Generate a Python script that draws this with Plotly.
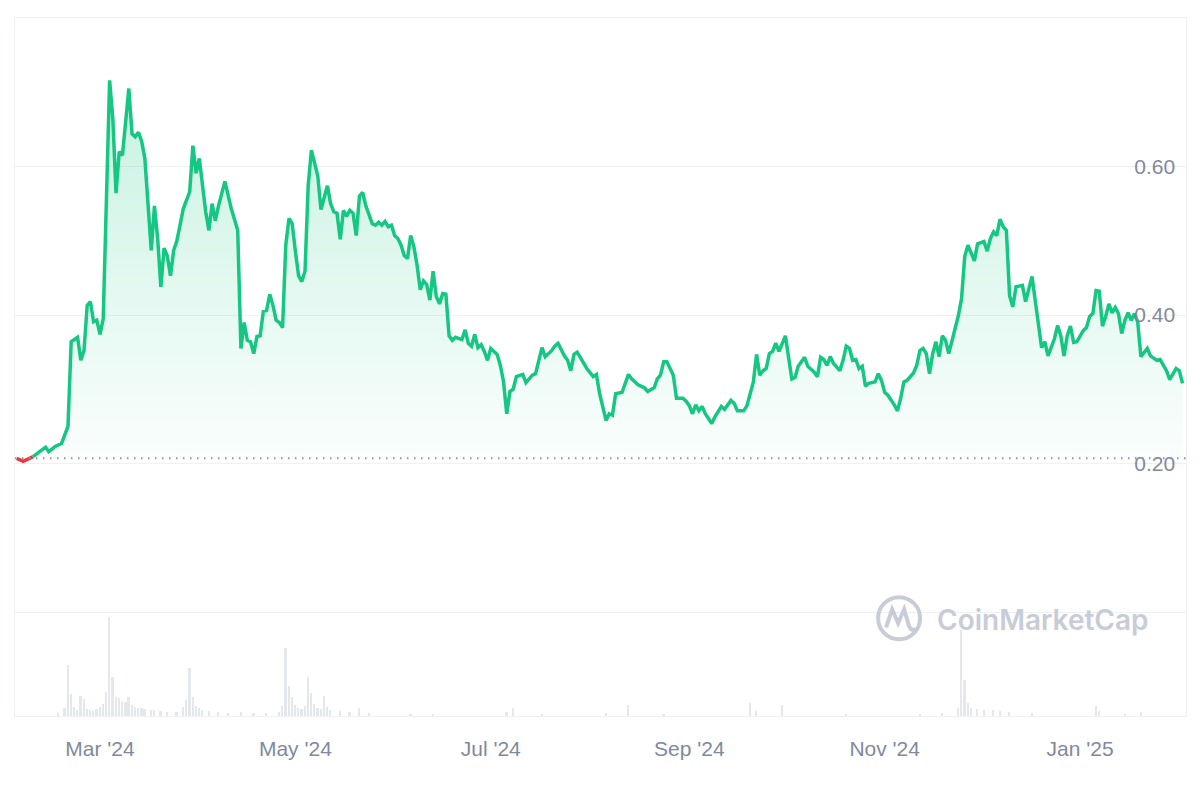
import plotly.graph_objects as go

# ---------------- data ----------------
dates = [
    "2024-02-04", "2024-02-06", "2024-02-09", "2024-02-11", "2024-02-13", "2024-02-14", "2024-02-16",
    "2024-02-18", "2024-02-19", "2024-02-20", "2024-02-21", "2024-02-23", "2024-02-24", "2024-02-25",
    "2024-02-26", "2024-02-27", "2024-02-28", "2024-02-29",
    "2024-03-01", "2024-03-02", "2024-03-04", "2024-03-05", "2024-03-06", "2024-03-07", "2024-03-08",
    "2024-03-10", "2024-03-11", "2024-03-12", "2024-03-13", "2024-03-14", "2024-03-15", "2024-03-17",
    "2024-03-18", "2024-03-19", "2024-03-20", "2024-03-21", "2024-03-22", "2024-03-23", "2024-03-24",
    "2024-03-25", "2024-03-27", "2024-03-29", "2024-03-30", "2024-03-31",
    "2024-04-01", "2024-04-03", "2024-04-04", "2024-04-05", "2024-04-06", "2024-04-07", "2024-04-09",
    "2024-04-11", "2024-04-13", "2024-04-14", "2024-04-15", "2024-04-16", "2024-04-17", "2024-04-18",
    "2024-04-19", "2024-04-20", "2024-04-21", "2024-04-22", "2024-04-23", "2024-04-24", "2024-04-25",
    "2024-04-26", "2024-04-27", "2024-04-28", "2024-04-29", "2024-04-30",
    "2024-05-01", "2024-05-02", "2024-05-03", "2024-05-04", "2024-05-05", "2024-05-06", "2024-05-08",
    "2024-05-09", "2024-05-11", "2024-05-12", "2024-05-13", "2024-05-14", "2024-05-15", "2024-05-16",
    "2024-05-17", "2024-05-18", "2024-05-19", "2024-05-20", "2024-05-21", "2024-05-22", "2024-05-23",
    "2024-05-25", "2024-05-26", "2024-05-27", "2024-05-28", "2024-05-29", "2024-05-30", "2024-05-31",
    "2024-06-01", "2024-06-02", "2024-06-03", "2024-06-04", "2024-06-05", "2024-06-06", "2024-06-07",
    "2024-06-08", "2024-06-09", "2024-06-10", "2024-06-11", "2024-06-12", "2024-06-13", "2024-06-14",
    "2024-06-15", "2024-06-16", "2024-06-17", "2024-06-18", "2024-06-19", "2024-06-20", "2024-06-22",
    "2024-06-23", "2024-06-24", "2024-06-25", "2024-06-26", "2024-06-27", "2024-06-28", "2024-06-29",
    "2024-06-30",
    "2024-07-01", "2024-07-03", "2024-07-04", "2024-07-05", "2024-07-06", "2024-07-07", "2024-07-08",
    "2024-07-09", "2024-07-11", "2024-07-12", "2024-07-14", "2024-07-15", "2024-07-16", "2024-07-17",
    "2024-07-18", "2024-07-20", "2024-07-21", "2024-07-22", "2024-07-24", "2024-07-25", "2024-07-26",
    "2024-07-27", "2024-07-28", "2024-07-30", "2024-07-31",
    "2024-08-02", "2024-08-03", "2024-08-04", "2024-08-06", "2024-08-07", "2024-08-08", "2024-08-09",
    "2024-08-11", "2024-08-13", "2024-08-14", "2024-08-16", "2024-08-18", "2024-08-19", "2024-08-21",
    "2024-08-22", "2024-08-23", "2024-08-24", "2024-08-25", "2024-08-27", "2024-08-28", "2024-08-30",
    "2024-08-31",
    "2024-09-01", "2024-09-02", "2024-09-03", "2024-09-04", "2024-09-05", "2024-09-06", "2024-09-08",
    "2024-09-09", "2024-09-11", "2024-09-12", "2024-09-14", "2024-09-15", "2024-09-16", "2024-09-18",
    "2024-09-19", "2024-09-21", "2024-09-22", "2024-09-23", "2024-09-24", "2024-09-25", "2024-09-26",
    "2024-09-27", "2024-09-28", "2024-09-29",
    "2024-10-01", "2024-10-02", "2024-10-03", "2024-10-04", "2024-10-05", "2024-10-07", "2024-10-08",
    "2024-10-10", "2024-10-11", "2024-10-12", "2024-10-13", "2024-10-14", "2024-10-15", "2024-10-16",
    "2024-10-18", "2024-10-19", "2024-10-20", "2024-10-21", "2024-10-22", "2024-10-23", "2024-10-24",
    "2024-10-25", "2024-10-26", "2024-10-27", "2024-10-29", "2024-10-30", "2024-10-31",
    "2024-11-01", "2024-11-02", "2024-11-04", "2024-11-05", "2024-11-06", "2024-11-07", "2024-11-08",
    "2024-11-10", "2024-11-11", "2024-11-12", "2024-11-13", "2024-11-14", "2024-11-15", "2024-11-16",
    "2024-11-17", "2024-11-18", "2024-11-19", "2024-11-20", "2024-11-21", "2024-11-22", "2024-11-23",
    "2024-11-24", "2024-11-25", "2024-11-26", "2024-11-27", "2024-11-29", "2024-11-30",
    "2024-12-02", "2024-12-03", "2024-12-04", "2024-12-05", "2024-12-06", "2024-12-07", "2024-12-08",
    "2024-12-09", "2024-12-10", "2024-12-11", "2024-12-12", "2024-12-14", "2024-12-15", "2024-12-17",
    "2024-12-18", "2024-12-19", "2024-12-20", "2024-12-21", "2024-12-22", "2024-12-24", "2024-12-25",
    "2024-12-26", "2024-12-27", "2024-12-28", "2024-12-29", "2024-12-30", "2024-12-31",
    "2025-01-02", "2025-01-03", "2025-01-04", "2025-01-05", "2025-01-06", "2025-01-07", "2025-01-08",
    "2025-01-09", "2025-01-10", "2025-01-11", "2025-01-12", "2025-01-13", "2025-01-14", "2025-01-15",
    "2025-01-16", "2025-01-17", "2025-01-18", "2025-01-19", "2025-01-20", "2025-01-22", "2025-01-23",
    "2025-01-25", "2025-01-26", "2025-01-27", "2025-01-28", "2025-01-29", "2025-01-30", "2025-01-31",
    "2025-02-01", "2025-02-02",
]

prices = [
    0.207, 0.203, 0.209, 0.216, 0.222, 0.216, 0.223,
    0.227, 0.240, 0.250, 0.364, 0.370, 0.339, 0.352,
    0.413, 0.418, 0.391, 0.393,
    0.374, 0.395, 0.716, 0.665, 0.564, 0.620, 0.615,
    0.705, 0.644, 0.640, 0.646, 0.634, 0.611, 0.487,
    0.547, 0.503, 0.438, 0.490, 0.480, 0.453, 0.487,
    0.500, 0.543, 0.566, 0.628, 0.591,
    0.611, 0.539, 0.514, 0.550, 0.527, 0.547, 0.580,
    0.543, 0.514, 0.355, 0.390, 0.366, 0.364, 0.348,
    0.371, 0.372, 0.405, 0.406, 0.428, 0.413, 0.393,
    0.390, 0.383, 0.494, 0.530, 0.523,
    0.486, 0.453, 0.445, 0.459, 0.574, 0.622, 0.587,
    0.542, 0.574, 0.550, 0.539, 0.537, 0.502, 0.541,
    0.533, 0.541, 0.537, 0.507, 0.560, 0.565, 0.547,
    0.523, 0.521, 0.525, 0.521, 0.526, 0.519, 0.521,
    0.507, 0.503, 0.494, 0.480, 0.476, 0.507, 0.492,
    0.467, 0.434, 0.446, 0.441, 0.420, 0.459, 0.425,
    0.415, 0.429, 0.428, 0.372, 0.366, 0.370, 0.367,
    0.380, 0.362, 0.358, 0.374, 0.356, 0.360, 0.351,
    0.339,
    0.355, 0.347, 0.332, 0.310, 0.267, 0.297, 0.300,
    0.317, 0.320, 0.309, 0.319, 0.321, 0.337, 0.356,
    0.344, 0.352, 0.358, 0.362, 0.345, 0.339, 0.325,
    0.347, 0.350, 0.335, 0.328,
    0.317, 0.320, 0.294, 0.258, 0.267, 0.265, 0.294,
    0.296, 0.320, 0.314, 0.306, 0.302, 0.297, 0.302,
    0.314, 0.319, 0.337, 0.337, 0.319, 0.288, 0.288,
    0.284,
    0.278, 0.267, 0.279, 0.271, 0.277, 0.267, 0.254,
    0.263, 0.277, 0.273, 0.285, 0.281, 0.271, 0.271,
    0.278, 0.310, 0.347, 0.319, 0.325, 0.328, 0.348,
    0.351, 0.362, 0.351,
    0.372, 0.344, 0.314, 0.316, 0.331, 0.343, 0.331,
    0.323, 0.317, 0.343, 0.340, 0.332, 0.344, 0.335,
    0.325, 0.339, 0.358, 0.355, 0.339, 0.340, 0.328,
    0.331, 0.304, 0.308, 0.310, 0.321, 0.312,
    0.296, 0.292, 0.279, 0.271, 0.288, 0.310, 0.312,
    0.322, 0.332, 0.352, 0.355, 0.348, 0.321, 0.348,
    0.364, 0.344, 0.372, 0.366, 0.348, 0.364, 0.380,
    0.399, 0.422, 0.479, 0.494, 0.473, 0.496,
    0.499, 0.486, 0.503, 0.512, 0.507, 0.529, 0.519,
    0.514, 0.426, 0.411, 0.438, 0.440, 0.418, 0.452,
    0.420, 0.385, 0.356, 0.364, 0.345, 0.368, 0.386,
    0.372, 0.345, 0.372, 0.385, 0.363, 0.364,
    0.379, 0.383, 0.398, 0.402, 0.433, 0.432, 0.385,
    0.398, 0.415, 0.403, 0.410, 0.402, 0.375, 0.393,
    0.403, 0.393, 0.402, 0.391, 0.344, 0.355, 0.345,
    0.339, 0.340, 0.332, 0.325, 0.313, 0.321, 0.328,
    0.325, 0.308,
]

vol_dates = [
    "2024-02-17", "2024-02-19", "2024-02-20", "2024-02-21", "2024-02-22", "2024-02-23", "2024-02-24",
    "2024-02-25", "2024-02-26", "2024-02-27", "2024-02-28", "2024-02-29", "2024-03-01", "2024-03-02",
    "2024-03-03", "2024-03-04", "2024-03-05", "2024-03-06", "2024-03-07", "2024-03-08", "2024-03-09",
    "2024-03-10", "2024-03-11", "2024-03-12", "2024-03-13", "2024-03-14", "2024-03-15", "2024-03-17",
    "2024-03-18", "2024-03-20", "2024-03-22", "2024-03-25", "2024-03-27", "2024-03-28", "2024-03-29",
    "2024-03-30", "2024-03-31", "2024-04-01", "2024-04-02", "2024-04-04", "2024-04-07", "2024-04-10",
    "2024-04-14", "2024-04-18", "2024-04-22", "2024-04-26", "2024-04-27", "2024-04-28", "2024-04-29",
    "2024-04-30", "2024-05-01", "2024-05-02", "2024-05-03", "2024-05-04", "2024-05-05", "2024-05-06",
    "2024-05-07", "2024-05-08", "2024-05-09", "2024-05-10", "2024-05-11", "2024-05-12", "2024-05-15",
    "2024-05-18", "2024-05-21", "2024-05-24", "2024-06-06", "2024-06-13", "2024-07-06", "2024-07-08",
    "2024-07-17", "2024-08-06", "2024-08-13", "2024-08-24", "2024-09-20", "2024-09-22", "2024-09-30",
    "2024-10-20", "2024-11-12", "2024-11-19", "2024-11-24", "2024-11-25", "2024-11-26", "2024-11-27",
    "2024-11-28", "2024-11-30", "2024-12-02", "2024-12-05", "2024-12-07", "2024-12-10", "2024-12-17",
    "2025-01-06", "2025-01-07", "2025-01-15", "2025-01-20",
]
volumes = [
    0.15, 0.40, 2.58, 1.10, 0.45, 0.30, 1.01,
    0.86, 0.35, 0.30, 0.25, 0.35, 0.45, 0.60,
    1.20, 5.00, 1.97, 0.96, 0.92, 0.75, 0.70,
    0.95, 0.55, 0.45, 0.40, 0.42, 0.35, 0.30,
    0.28, 0.25, 0.20, 0.18, 0.45, 0.81, 2.42,
    0.95, 0.50, 0.40, 0.30, 0.25, 0.20, 0.15,
    0.20, 0.15, 0.15, 0.20, 0.50, 3.43, 1.52,
    0.95, 0.55, 0.40, 0.35, 0.50, 1.97, 1.16,
    0.60, 0.40, 0.35, 1.00, 0.45, 0.30, 0.25,
    0.20, 0.40, 0.15, 0.12, 0.12, 0.20, 0.40,
    0.12, 0.15, 0.56, 0.12, 0.66, 0.25, 0.56,
    0.12, 0.12, 0.15, 0.40, 4.34, 1.82, 0.66,
    0.40, 0.35, 0.30, 0.30, 0.25, 0.20, 0.15,
    0.50, 0.25, 0.12, 0.20,
]

y_tickvals = [0.0, 0.2, 0.4, 0.6, 0.8]
y_ticktext = ["", "0.20", "0.40", "0.60", ""]

# ---------------- styling ----------------
GREEN = "#16c784"
RED = "#ea3943"
GRID = "#eef0f3"
LABEL = "#808a9d"
FONT = "Liberation Sans, Arial, sans-serif"

base = prices[0]
below = [i for i, p in enumerate(prices) if p < base]
split = (max(below) + 1) if below else 0

DAY_MS = 86400000

fig = go.Figure()

# volume bars (secondary axis, bottom band)
fig.add_trace(go.Bar(
    x=vol_dates, y=volumes, yaxis="y2",
    marker=dict(color="#e4e7ec", line=dict(width=0)),
    width=0.55 * DAY_MS, hoverinfo="skip", showlegend=False,
))

# invisible baseline for the fill
fig.add_trace(go.Scatter(
    x=dates, y=[base] * len(dates), mode="lines",
    line=dict(width=0, color="rgba(0,0,0,0)"), hoverinfo="skip", showlegend=False,
))
# gradient fill between price and baseline
fig.add_trace(go.Scatter(
    x=dates, y=prices, mode="lines", line=dict(width=0, color="rgba(0,0,0,0)"),
    fill="tonexty",
    fillgradient=dict(
        type="vertical",
        colorscale=[[0, "rgba(22,199,132,0.02)"], [1, "rgba(22,199,132,0.24)"]],
        start=base, stop=max(prices),
    ),
    hoverinfo="skip", showlegend=False,
))
# red part (below the opening price)
fig.add_trace(go.Scatter(
    x=dates[:split + 1], y=prices[:split + 1], mode="lines",
    line=dict(color=RED, width=3.5), showlegend=False,
))
# green price line
fig.add_trace(go.Scatter(
    x=dates[split:], y=prices[split:], mode="lines",
    line=dict(color=GREEN, width=3.5), showlegend=False,
))

# dotted opening-price line
fig.add_shape(
    type="line", xref="paper", x0=0, x1=1, yref="y", y0=base, y1=base,
    line=dict(color="#8c93a3", width=2, dash="1.5px,5.5px"), layer="above",
)

# watermark
WM = "#c7ccd6"
fig.add_shape(
    type="circle", xref="paper", yref="paper", xsizemode="pixel", ysizemode="pixel",
    xanchor=0.755, yanchor=0.140, x0=-21, x1=21, y0=-21, y1=21,
    line=dict(color=WM, width=4), layer="above",
)
fig.add_shape(
    type="path", xref="paper", yref="paper", xsizemode="pixel", ysizemode="pixel",
    xanchor=0.755, yanchor=0.140,
    path="M -13,-9 L -7,9 L -1,-5 L 5,9 L 10,-8 Q 12,-13 17,-11",
    line=dict(color=WM, width=4), layer="above",
)
fig.add_annotation(
    xref="paper", yref="paper", x=0.786, y=0.137, xanchor="left", yanchor="middle",
    text="CoinMarketCap", showarrow=False,
    font=dict(family="Inter, sans-serif", size=28, color=WM, weight=600),
)

fig.update_layout(
    width=1200, height=800,
    margin=dict(l=15, r=14, t=18, b=84),
    paper_bgcolor="white", plot_bgcolor="white",
    showlegend=False, bargap=0,
    xaxis=dict(
        type="date",
        range=["2024-02-03 11:00", "2025-02-03 02:00"],
        tick0="2024-03-01", dtick="M2", tickformat="%b '%y",
        showgrid=False, zeroline=False,
        showline=True, linecolor=GRID, linewidth=1, mirror=True,
        ticks="outside", ticklen=14, tickcolor="rgba(0,0,0,0)",
        tickfont=dict(family=FONT, size=21, color=LABEL),
    ),
    yaxis=dict(
        range=[-0.14, 0.8], side="right",
        tickvals=y_tickvals, ticktext=y_ticktext,
        ticklabelposition="inside", ticks="", ticklabelstandoff=12,
        tickfont=dict(family=FONT, size=21, color=LABEL),
        showgrid=True, gridcolor=GRID, gridwidth=1,
        zeroline=False, showline=True, linecolor=GRID, linewidth=1, mirror=True,
    ),
    yaxis2=dict(
        overlaying="y", range=[0, max(volumes) * 7.05], visible=False,
        fixedrange=True,
    ),
)

fig.write_html("out.html")
